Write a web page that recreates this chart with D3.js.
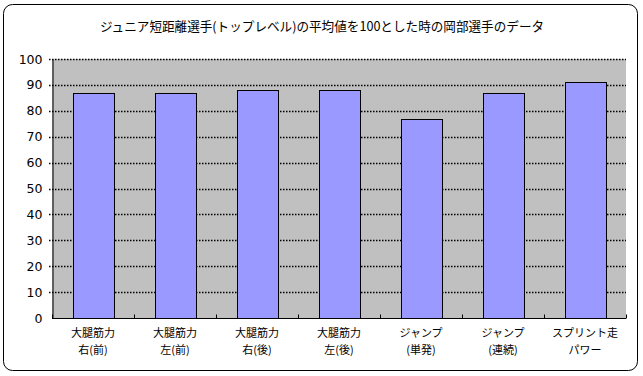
<!DOCTYPE html>
<html lang="ja">
<head>
<meta charset="UTF-8" />
<title>bar chart</title>
<script src="https://cdn.jsdelivr.net/npm/d3@7"></script>
<style>
  body { margin: 0; background: #fff; }
  .title { font-family: "Noto Sans CJK JP", sans-serif; font-size: 12.6px; }
  .ylab { font-family: Verdana, "DejaVu Sans", sans-serif; font-size: 12.5px; }
  .xlab { font-family: "Noto Sans CJK JP", sans-serif; font-size: 11px; }
</style>
</head>
<body>
<svg id="chart" width="643" height="376"></svg>
<script>
  // data
  let categories = [
    ["大腿筋力", "右(前)"],
    ["大腿筋力", "左(前)"],
    ["大腿筋力", "右(後)"],
    ["大腿筋力", "左(後)"],
    ["ジャンプ", "(単発)"],
    ["ジャンプ", "(連続)"],
    ["スプリント走", "パワー"]
  ];
  let values = [87, 87, 88, 88, 77, 87, 91];
  let yTicks = [0, 10, 20, 30, 40, 50, 60, 70, 80, 90, 100];
  let title = "ジュニア短距離選手(トップレベル)の平均値を100とした時の岡部選手のデータ";

  let svg = d3.select("#chart");

  // outer frame
  svg.append("rect")
    .attr("x", 3.5).attr("y", 4.5)
    .attr("width", 634).attr("height", 366)
    .attr("rx", 9).attr("ry", 9)
    .attr("fill", "#fff")
    .attr("stroke", "#000")
    .attr("stroke-width", 1);

  svg.append("text")
    .attr("class", "title")
    .attr("x", 322).attr("y", 31)
    .attr("text-anchor", "middle")
    .text(title);

  let pLeft = 52, pRight = 626, pTop = 59, pBottom = 318;

  let x = d3.scaleBand()
    .domain(d3.range(categories.length))
    .range([pLeft, pRight])
    .paddingInner(0.5)
    .paddingOuter(0.25);
  let band = d3.scaleBand().domain(d3.range(categories.length)).range([pLeft, pRight]);
  let y = d3.scaleLinear().domain([0, 100]).range([pBottom, pTop]);

  // plot background
  svg.append("rect")
    .attr("x", pLeft).attr("y", pTop)
    .attr("width", pRight - pLeft).attr("height", pBottom - pTop)
    .attr("fill", "#c0c0c0");

  // dotted gridlines
  svg.append("g")
    .selectAll("line")
    .data(yTicks.filter(d => d > 0))
    .join("line")
    .attr("x1", pLeft - 3).attr("x2", pRight)
    .attr("y1", d => Math.round(y(d)) + 0.5)
    .attr("y2", d => Math.round(y(d)) + 0.5)
    .attr("stroke", "#000")
    .attr("stroke-width", 1.3)
    .attr("stroke-dasharray", "1.5,1.5");

  // bars
  svg.append("g")
    .selectAll("rect")
    .data(values)
    .join("rect")
    .attr("x", (d, i) => Math.round(x(i)) + 0.5)
    .attr("y", d => Math.round(y(d)) + 0.5)
    .attr("width", x.bandwidth())
    .attr("height", d => pBottom - Math.round(y(d)))
    .attr("fill", "#9999ff")
    .attr("stroke", "#000")
    .attr("stroke-width", 1);

  // axes
  let yAxis = d3.axisLeft(y).tickValues(yTicks).tickSize(0).tickPadding(10);
  let gy = svg.append("g")
    .attr("transform", `translate(${pLeft + 0.5},0)`)
    .call(yAxis);
  gy.select(".domain").attr("stroke", "#000");
  gy.selectAll("text").attr("class", "ylab").attr("fill", "#000");

  let gx = svg.append("g").attr("transform", `translate(0,${pBottom + 0.5})`);
  gx.append("line")
    .attr("x1", pLeft).attr("x2", pRight)
    .attr("stroke", "#000");
  gx.selectAll(".tk")
    .data(d3.range(categories.length + 1))
    .join("line")
    .attr("class", "tk")
    .attr("x1", d => Math.round(pLeft + d * band.bandwidth()) + 0.5)
    .attr("x2", d => Math.round(pLeft + d * band.bandwidth()) + 0.5)
    .attr("y1", -4).attr("y2", 0)
    .attr("stroke", "#000");

  let labels = gx.selectAll(".xl")
    .data(categories)
    .join("text")
    .attr("class", "xlab")
    .attr("text-anchor", "middle")
    .attr("x", (d, i) => band(i) + band.bandwidth() / 2);
  labels.append("tspan")
    .attr("x", (d, i) => band(i) + band.bandwidth() / 2)
    .attr("y", 18)
    .text(d => d[0]);
  labels.append("tspan")
    .attr("x", (d, i) => band(i) + band.bandwidth() / 2)
    .attr("y", 35)
    .text(d => d[1]);
</script>
</body>
</html>
